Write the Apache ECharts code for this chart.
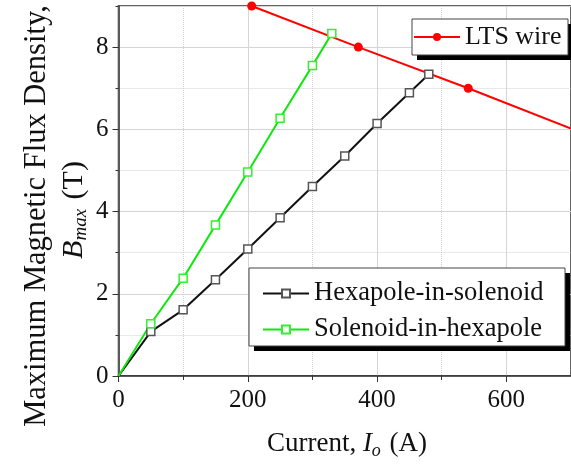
<!DOCTYPE html>
<html>
<head>
<meta charset="utf-8">
<script src="https://cdn.jsdelivr.net/npm/echarts@6/dist/echarts.min.js"></script>
<style>
html,body{margin:0;padding:0;background:#fff;}
#chart{width:571px;height:465px;}
</style>
</head>
<body>
<div id="chart"></div>
<script>
// 数据
var currentHex = [0, 50, 100, 150, 200, 250, 300, 350, 400, 450, 480];
var bHex = [0, 1.08, 1.61, 2.34, 3.09, 3.85, 4.61, 5.35, 6.14, 6.89, 7.34];
var currentSol = [0, 50, 100, 150, 200, 250, 300, 330];
var bSol = [0, 1.27, 2.38, 3.67, 4.96, 6.27, 7.55, 8.33];
var currentLts = [206, 371, 541, 700];
var bLts = [9.0, 8.0, 7.0, 6.02];
var xTicks = [0, 200, 400, 600];
var yTicks = [0, 2, 4, 6, 8];

var serif = '"Liberation Serif", "Times New Roman", serif';

// 第一个点和延长线末端不画标记
function toPoints(xs, ys, noSymbol) {
    var arr = [];
    for (var i = 0; i < xs.length; i++) {
        var item = {value: [xs[i], ys[i]]};
        if (noSymbol.indexOf(i) >= 0) item.symbol = 'none';
        arr.push(item);
    }
    return arr;
}

// 图例边框 + 黑色阴影
function legendBox(x, y, w, h) {
    return [
        {type: 'rect', z: 1, shape: {x: x + 5, y: y + 5, width: w, height: h}, style: {fill: '#000'}},
        {type: 'rect', z: 2, shape: {x: x, y: y, width: w, height: h}, style: {fill: '#fff', stroke: '#444', lineWidth: 1}}
    ];
}

var myChart = echarts.init(document.getElementById('chart'));
var option = {
    animation: false,
    grid: {
        left: 118.5, top: 6, right: -5, bottom: 89,
        show: true, borderColor: '#333', borderWidth: 1.5
    },
    legend: [
        {
            data: ['LTS wire'],
            left: 413, top: 24,
            orient: 'vertical',
            itemWidth: 46, itemHeight: 10, itemGap: 4,
            padding: 0,
            textStyle: {fontFamily: serif, fontSize: 26, color: '#111', lineHeight: 26}
        },
        {
            data: ['Hexapole-in-solenoid', 'Solenoid-in-hexapole'],
            left: 262, top: 280,
            orient: 'vertical',
            itemWidth: 46, itemHeight: 10, itemGap: 9,
            padding: 0,
            textStyle: {fontFamily: serif, fontSize: 26.5, color: '#111', lineHeight: 26}
        }
    ],
    xAxis: [
        {
            type: 'value', min: 0, max: 700, interval: 200,
            axisLine: {lineStyle: {color: '#333', width: 1.5}},
            axisTick: {length: 6, lineStyle: {color: '#333'}},
            axisLabel: {
                fontFamily: serif, fontSize: 25, color: '#111', margin: 12,
                showMaxLabel: false,
                formatter: function (v) { return xTicks.indexOf(v) >= 0 ? v : ''; }
            },
            splitLine: {show: true, lineStyle: {color: '#d9d9d9', width: 1}}
        },
        {
            // 次网格线（虚线）
            type: 'value', min: 0, max: 700, interval: 100, position: 'bottom',
            axisLine: {show: false},
            axisTick: {length: 4, lineStyle: {color: '#333'}},
            axisLabel: {show: false},
            splitLine: {show: true, lineStyle: {color: '#d0d0d0', type: 'dotted', width: 1}}
        }
    ],
    yAxis: [
        {
            type: 'value', min: 0, max: 9, interval: 2,
            axisLine: {show: true, lineStyle: {color: '#333', width: 1.5}},
            axisTick: {show: true, length: 6, lineStyle: {color: '#333'}},
            axisLabel: {
                fontFamily: serif, fontSize: 25, color: '#111', margin: 10,
                showMaxLabel: false,
                formatter: function (v) { return yTicks.indexOf(v) >= 0 ? v : ''; }
            },
            splitLine: {show: true, lineStyle: {color: '#d9d9d9', width: 1}}
        },
        {
            type: 'value', min: 0, max: 9, interval: 1, position: 'left',
            axisLine: {show: false},
            axisTick: {show: true, length: 3, lineStyle: {color: '#333'}},
            axisLabel: {show: false},
            splitLine: {show: true, lineStyle: {color: '#d0d0d0', type: 'dotted', width: 1}}
        }
    ],
    graphic: legendBox(412, 19, 156, 36).concat(legendBox(249, 268, 316, 78)).concat([
        {
            type: 'text', x: 37, y: 216, rotation: Math.PI / 2,
            style: {
                text: 'Maximum Magnetic Flux Density,',
                fontFamily: serif, fontSize: 30.5, fill: '#111',
                align: 'center', verticalAlign: 'middle'
            }
        },
        {
            type: 'text', x: 74, y: 210, rotation: Math.PI / 2,
            style: {
                text: '{i|B}{s|max} (T)',
                fontFamily: serif, fontSize: 30, fill: '#111',
                align: 'center', verticalAlign: 'middle',
                rich: {
                    i: {fontFamily: serif, fontSize: 30, fontStyle: 'italic', fill: '#111'},
                    s: {fontFamily: serif, fontSize: 19, fontStyle: 'italic', fill: '#111', padding: [14, 2, 0, 0]}
                }
            }
        },
        {
            type: 'text', x: 347, y: 444,
            style: {
                text: 'Current, {i|I}{s|o} (A)',
                fontFamily: serif, fontSize: 27, fill: '#111',
                align: 'center', verticalAlign: 'middle',
                rich: {
                    i: {fontFamily: serif, fontSize: 27, fontStyle: 'italic', fill: '#111'},
                    s: {fontFamily: serif, fontSize: 18, fontStyle: 'italic', fill: '#111', padding: [14, 2, 0, 0]}
                }
            }
        }
    ]),
    series: [
        {
            name: 'LTS wire',
            type: 'line',
            data: toPoints(currentLts, bLts, [3]),
            symbol: 'circle', symbolSize: 9,
            lineStyle: {color: '#ff0000', width: 2},
            itemStyle: {color: '#ff0000'},
            z: 3
        },
        {
            name: 'Hexapole-in-solenoid',
            type: 'line',
            data: toPoints(currentHex, bHex, [0]),
            symbol: 'rect', symbolSize: 8,
            lineStyle: {color: '#111', width: 2},
            itemStyle: {color: '#fff', borderColor: '#555', borderWidth: 1.5}
        },
        {
            name: 'Solenoid-in-hexapole',
            type: 'line',
            data: toPoints(currentSol, bSol, [0]),
            symbol: 'rect', symbolSize: 8,
            lineStyle: {color: '#0ee80e', width: 2},
            itemStyle: {color: '#fff', borderColor: '#33ee33', borderWidth: 1.5}
        }
    ]
};
myChart.setOption(option);
</script>
</body>
</html>
